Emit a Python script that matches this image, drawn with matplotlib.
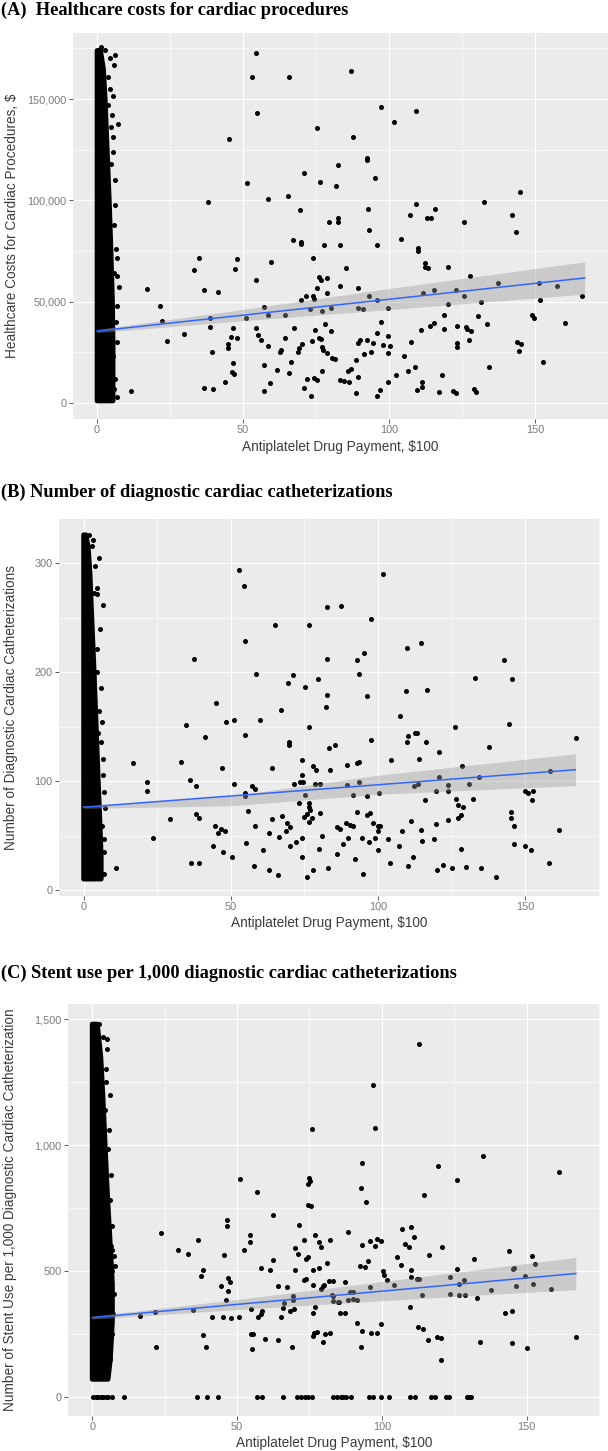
import matplotlib
matplotlib.use("Agg")
import matplotlib.pyplot as plt
from matplotlib.ticker import FuncFormatter

# ---------------- data ----------------
# panel A: healthcare costs (thousand $) vs antiplatelet payment ($100)
a_pts = [
    (54.5,172.8),(53.0,160.7),(65.9,160.7),(54.9,142.9),(45.3,130.4),(71.0,113.3),(51.3,108.5),
    (37.9,99.3),(58.5,100.6),(65.3,102.1),(69.4,95.2),(67.1,80.2),(69.7,79.4),(69.7,78.3),
    (34.9,71.4),(48.1,70.9),(59.7,69.6),(33.3,65.5),(47.2,66.3),(54.6,60.7),(17.0,56.1),
    (36.5,55.6),(41.4,54.8),(70.0,50.8),(71.7,52.8),(21.7,47.7),(57.1,47.2),(22.1,40.5),
    (38.6,42.1),(51.1,42.1),(58.5,43.6),(64.3,43.6),(38.6,37.3),(46.5,36.8),(54.6,36.8),
    (67.6,36.8),(29.8,34.0),(55.3,33.7),(24.0,30.6),(46.0,32.7),(47.8,31.9),(56.0,31.1),
    (64.3,31.9),(44.9,29.0),(44.9,27.3),(58.5,28.1),(70.2,29.1),(39.5,25.3),(62.7,25.3),
    (63.0,26.1),(68.8,25.3),(69.3,27.0),(66.4,20.4),
    (4.4,170.4),(6.1,171.7),(5.9,166.7),(3.9,161.0),(5.6,151.5),(3.9,147.3),(7.3,137.5),
    (4.7,136.0),(5.4,131.4),(4.7,117.9),(6.9,71.4),(5.8,64.0),(7.4,57.4),(6.7,2.8),(11.5,6.1),
    (5.6,23.2),(5.0,21.5),(6.2,97.5),(5.8,88.0),(6.4,76.0),(6.9,62.5),(7.0,48.0),(6.5,40.0),
    (6.8,30.0),(6.0,12.0),(5.9,7.0),(4.6,155.0),(5.0,142.0),(5.6,124.0),(6.0,110.0),
    (2.8,174.0),(1.5,175.5),
    (46.7,19.7),(46.3,15.1),(47.0,14.3),(36.6,7.5),(39.7,7.1),(43.7,10.3),(57.1,18.9),
    (61.6,16.3),(59.1,9.9),(57.1,5.7),(65.9,14.7),
    (87.1,163.9),(97.2,146.2),(109.3,143.9),(101.7,138.8),(75.2,135.5),(87.5,131.4),
    (92.6,120.7),(92.3,119.7),(82.6,117.4),(76.5,109.2),(81.9,107.2),(95.2,110.8),
    (144.8,103.9),(132.5,99.3),(92.9,95.6),(109.3,98.3),(115.8,95.6),(107.2,92.7),(142.1,92.7),
    (79.5,89.4),(82.4,91.1),(82.4,89.1),(93.3,85.3),(77.8,78.2),(83.3,78.2),(95.8,78.2),
    (104.2,80.7),(73.8,71.4),(85.2,66.4),(76.1,62.3),(76.7,60.7),(78.7,61.8),(75.2,56.6),
    (83.3,57.9),(89.4,56.6),(78.7,54.1),(73.8,52.8),(74.4,51.3),(73.0,46.2),(77.0,45.4),
    (80.3,46.7),(89.4,46.7),(91.2,46.2),(93.2,52.8),(95.8,50.8),(99.8,46.7),(109.9,76.3),
    (109.9,75.1),(113.1,91.4),(114.3,91.4),(111.7,54.1),(115.5,55.7),(112.2,68.9),(112.2,67.2),
    (113.3,66.4),(120.1,67.2),(125.7,89.1),(127.6,62.7),(123.1,55.7),(125.6,52.8),(120.1,48.7),
    (119.0,43.4),(118.9,36.5),(123.3,38.0),(123.2,29.7),(123.2,27.5),(126.2,37.6),(126.6,36.5),
    (128.0,35.7),(127.3,30.9),(130.4,43.1),(131.5,50.0),(133.6,39.0),(134.4,17.9),(137.2,59.3),
    (143.4,84.5),(148.9,43.4),(149.8,42.1),(144.0,29.9),(145.3,29.1),(144.4,25.8),(151.4,59.0),
    (151.8,50.8),(152.6,20.2),(157.7,57.9),(160.4,39.3),(166.2,52.8),
    (71.0,7.2),(73.3,3.5),(71.8,11.8),(74.4,12.5),(75.5,11.3),(73.6,30.7),(76.7,31.6),
    (76.1,32.2),(74.6,36.0),(78.2,39.0),(80.1,35.7),(77.0,27.8),(77.5,26.1),(78.8,24.8),
    (80.6,22.3),(81.5,21.5),(77.0,15.8),(83.3,11.3),(84.6,11.0),(86.3,10.2),(85.8,15.9),
    (86.9,16.6),(88.6,21.2),(89.5,12.7),(88.7,4.8),(89.5,29.7),(90.0,31.1),(92.6,31.1),
    (94.5,29.7),(94.0,25.0),(91.5,24.2),(95.9,34.7),(97.2,40.1),(95.8,3.5),(96.8,6.4),
    (98.0,28.6),(100.3,28.3),(99.7,33.2),(99.7,24.5),(99.6,10.5),(102.5,13.8),(105.1,23.3),
    (106.5,15.8),(107.7,29.9),(109.0,17.9),(109.6,6.4),(111.4,7.7),(111.4,10.5),(110.9,36.0),
    (114.0,38.1),(115.4,39.6),(118.0,13.8),(117.1,5.4),(121.9,6.1),(122.8,4.8),(129.0,7.1),
    (129.9,5.6),
]
# dense column near zero payment: right edge of the solid cloud
a_col_y = [1, 10, 30, 50, 75, 100, 125, 150, 165, 174]
a_col_x = [5.5, 5.5, 5.5, 5.3, 4.8, 4.2, 3.5, 2.8, 2.2, 1.2]
a_fit_x = [0, 167]
a_fit_y = [35.5, 61.7]
a_ci_x = [0, 50, 100, 167]
a_ci_lo = [34.7, 40.6, 46.1, 53.7]
a_ci_hi = [36.3, 46.2, 56.5, 69.7]

# panel B: number of diagnostic catheterizations
b_pts = [
    (3.3,321.4),(2.9,315.3),(4.0,297.2),(4.4,277.2),(3.7,272.9),(4.4,271.4),(6.7,261.3),
    (4.4,220.8),(4.6,200.2),(5.4,164.0),(6.3,153.9),(5.0,144.0),(5.8,135.5),(6.7,105.8),
    (5.5,57.7),(6.3,58.9),(6.9,46.6),(11.1,20.5),(36.5,25.1),(39.3,25.1),
    (5.6,240.0),(6.0,185.0),(6.6,120.0),(7.0,90.0),(7.2,75.0),(7.0,35.0),(6.8,15.0),
    (5.2,305.0),(2.0,326.0),
    (52.9,294.1),(54.5,279.3),(82.8,259.4),(87.5,260.3),(65.1,243.1),(76.5,243.1),(54.7,228.7),
    (37.6,211.8),(82.5,211.8),(58.5,198.3),(71.0,197.4),(69.4,190.0),(79.7,194.1),(75.3,186.5),
    (82.5,179.1),(82.3,168.0),(45.1,171.3),(67.1,165.6),(51.1,156.0),(48.2,154.6),(59.8,156.0),
    (34.8,151.1),(76.5,149.3),(41.1,140.1),(54.7,142.6),(69.9,135.5),(69.7,133.4),(85.2,133.1),
    (83.4,130.6),(16.7,117.0),(33.2,117.8),(47.0,111.9),(64.1,111.9),(74.0,119.6),(77.9,114.1),
    (79.0,110.4),(83.5,110.4),(21.4,99.4),(21.6,91.3),(36.3,101.2),(38.3,95.0),(51.1,97.5),
    (54.7,89.4),(54.9,86.5),(57.1,95.3),(58.2,93.1),(71.5,97.5),(73.6,99.4),(74.5,99.4),
    (74.0,106.0),(75.3,87.4),(73.2,79.7),(76.4,79.7),(78.7,97.5),(80.3,97.5),(29.5,65.3),
    (38.3,69.6),(39.3,66.0),(55.7,72.7),(64.1,65.3),(67.5,68.3),(69.0,61.3),(70.2,57.6),
    (68.6,54.3),(74.7,66.9),(76.0,69.9),(77.0,73.6),(76.4,62.8),(77.5,65.9),(80.3,71.0),
    (76.6,76.6),(44.7,58.9),(46.7,55.7),(48.1,54.5),(45.7,52.1),(58.2,58.9),(62.8,52.1),
    (66.2,49.0),(23.4,47.5),(74.3,47.5),(80.9,49.7),(86.0,58.2),(87.1,55.7),
    (101.8,289.8),(97.6,249.0),(109.9,222.0),(114.6,226.3),(92.8,210.9),(95.3,217.7),(93.5,198.4),
    (96.2,177.9),(109.5,182.6),(116.5,184.0),(132.9,194.6),(142.9,210.9),(145.4,194.1),
    (107.5,159.4),(126.1,149.3),(144.3,152.6),(97.5,137.3),(109.9,135.5),(110.3,141.7),
    (112.4,144.2),(113.3,144.2),(116.2,135.5),(120.8,127.0),(137.6,131.6),(167.2,139.2),
    (89.6,114.3),(92.8,116.5),(93.5,117.4),(104.3,119.6),(113.9,120.2),(128.4,114.1),
    (120.8,104.1),(158.5,109.5),(89.6,96.6),(93.5,99.1),(112.2,95.0),(113.5,97.5),(123.6,96.6),
    (123.6,91.3),(130.7,97.5),(134.3,103.7),(119.7,91.3),(100.4,88.9),(91.6,87.1),(96.2,86.5),
    (115.9,82.8),(126.4,83.9),(127.1,78.2),(128.7,76.6),(132.1,83.9),(149.8,91.3),(151.0,89.4),
    (152.6,91.3),(152.3,82.2),(93.0,71.9),(96.2,69.0),(97.3,70.6),(89.2,61.4),(90.3,59.8),
    (91.6,59.1),(98.2,61.4),(100.1,58.9),(100.7,58.9),(99.8,53.7),(111.1,63.5),(108.0,54.6),
    (114.6,55.2),(119.7,60.4),(123.6,63.8),(127.2,66.0),(128.0,69.0),(145.0,72.0),(145.2,66.0),
    (146.1,58.9),(161.4,55.2),
    (89.8,48.0),(94.5,48.0),(98.8,48.0),(103.3,47.0),(119.1,47.0),
    (44.0,40.0),(47.5,35.0),(50.5,30.0),(55.0,43.0),(58.0,22.0),(61.0,37.0),(63.0,18.0),
    (66.0,14.0),(70.0,40.0),(72.0,44.0),(74.0,30.0),(76.0,12.0),(78.0,18.0),(80.0,38.0),
    (83.0,20.0),(86.0,33.0),(88.0,42.0),(92.0,28.0),(95.0,15.0),(97.0,44.0),(100.0,37.0),
    (104.0,25.0),(107.0,40.0),(110.0,22.0),(112.0,30.0),(115.0,45.0),(120.0,18.0),(122.0,23.0),
    (125.0,20.0),(128.0,38.0),(130.0,21.0),(135.0,20.0),(140.0,12.0),(146.0,42.0),(150.0,40.0),
    (152.0,37.0),(158.0,25.0),
]
b_col_y = [10, 30, 60, 100, 150, 200, 250, 290, 315, 326]
b_col_x = [6.0, 6.0, 5.6, 5.0, 4.3, 3.6, 2.8, 2.2, 1.6, 0.8]
b_fit_x = [0, 167]
b_fit_y = [76.0, 110.4]
b_ci_x = [0, 50, 100, 167]
b_ci_lo = [75.0, 77.3, 87.9, 95.8]
b_ci_hi = [77.0, 86.3, 105.3, 125.0]

# panel C: stent use per 1,000 diagnostic catheterizations
c_pts = [
    (4.5,1137),(6.8,584),(5.4,720),(6.0,780),(6.5,600),(5.9,460),(6.3,430),(5.0,1380),
    (4.6,1250),(5.5,985),(6.8,500),(7.6,560),(8.0,520),(7.4,410),(7.2,330),(6.9,250),
    (6.2,150),(5.6,100),(7.0,680),(6.6,880),(5.8,1060),(4.8,1300),(3.8,1430),(2.5,1480),
    (6.2,1200),(5.2,1420),
    (76.0,1062),(51.0,865.5),(57.0,814.0),(74.7,869.6),(75.2,856.0),(74.4,847.0),(74.6,763.0),
    (75.4,759.0),(62.3,722.5),(46.4,701.0),(46.4,677.0),(23.8,651.0),(71.5,682.7),(88.3,653.0),
    (36.4,624.0),(54.5,644.0),(54.5,613.6),(73.2,624.0),(77.0,641.5),(78.3,615.0),(79.1,595.0),
    (82.1,624.0),(29.6,584.5),(33.2,568.6),(45.6,564.6),(52.5,584.5),(70.1,591.0),(70.9,568.6),
    (73.8,547.5),(74.4,554.0),(62.5,542.0),(81.1,531.6),(37.5,481.0),(38.4,502.0),(58.3,510.0),
    (61.4,502.0),(70.0,502.0),(76.1,502.0),(78.2,510.0),(46.8,472.0),(47.6,457.0),(47.0,419.0),
    (46.2,383.0),(44.5,438.6),(64.0,438.6),(67.3,436.0),(73.2,465.0),(74.0,469.0),(76.1,445.0),
    (78.9,428.0),(79.6,438.6),(80.1,444.0),(81.8,462.0),(83.2,460.0),(87.2,455.0),(69.4,399.0),
    (69.2,386.0),(66.3,372.5),(65.8,352.7),(77.0,359.0),(83.0,399.0),(84.9,375.0),(88.4,383.0),
    (54.7,350.0),(58.6,343.0),(58.3,330.0),(34.9,346.0),(85.5,333.0),(87.2,333.0),(16.6,323.0),
    (21.7,338.0),(41.3,319.0),(45.1,317.0),(47.9,314.0),(50.8,319.0),(57.1,317.0),(65.1,317.0),
    (68.3,343.0),(69.7,349.0),(76.3,333.0),(54.9,250.0),(55.6,250.0),(38.2,246.5),(39.4,200.0),
    (22.0,200.0),(55.1,189.6),(59.7,232.0),(64.0,226.6),(69.0,200.0),(76.3,242.5),(76.7,255.7),
    (77.5,259.6),(79.6,217.5),(80.3,250.0),(82.1,253.0),
    (113.0,1400),(97.0,1240),
    (97.6,1068),(93.1,929),(134.9,958),(119.4,918.5),(161.1,893.5),(126.1,860),(92.8,831),
    (114.6,802),(94.7,772.6),(107.1,668),(110.2,673),(111.1,635),(93.3,604),(95.9,617.5),
    (97.6,597.6),(98.5,627),(99.9,617.5),(107.9,608),(109.3,593.6),(116.2,561.8),(120.8,593.6),
    (105.4,554),(106.8,522),(144.1,580.5),(152.0,558),(153.0,529),(131.7,547.5),(126.1,509),
    (145.3,509),(92.4,518),(94.1,515.7),(95.3,539.6),(100.4,498),(100.7,485),(101.8,465),
    (110.0,502),(110.0,478),(112.0,470),(112.8,470),(104.2,445),(95.9,436),(113.9,404),
    (123.4,477),(123.6,408),(126.7,449),(128.3,465),(126.7,404),(128.6,404),(133.0,392.4),
    (137.7,425.5),(145.5,511.7),(146.2,441),(149.6,482),(152.2,448),(158.5,429),(89.0,415),
    (90.1,388.5),(91.5,385.7),(90.2,414.7),(82.9,405.5),(83.2,379),(85.3,376.5),(142.4,335),
    (144.9,342),(109.7,356.6),(120.6,236),(119.2,237),(120.3,147),(133.9,217.5),(144.8,213.5),
    (150.3,193.6),(167.1,240),(112.5,279.5),(114.2,269),(116.1,226.6),(91.3,295.5),(93.3,263.6),
    (96.2,253),(98.2,253),(99.8,290),(92.8,200),
]
c_zero_x = [0.3, 1.2, 2.0, 2.9, 3.8, 4.6, 5.5, 6.7, 11.1, 36.1, 39.5, 43.3, 57.0, 58.7, 66.0,
            70.8, 72.1, 73.4, 74.6, 75.8, 83.2, 84.7, 85.8, 86.7, 87.6, 89.2, 95.5, 97.0, 99.9,
            102.5, 109.9, 111.4, 117.1, 118.5, 122.3, 123.1, 129.4, 130.0, 130.7]
c_col_y = [70, 150, 300, 450, 600, 800, 1000, 1200, 1350, 1480]
c_col_x = [5.5, 6.3, 7.0, 7.0, 6.3, 5.3, 4.5, 3.7, 3.0, 1.8]
c_fit_x = [0, 167]
c_fit_y = [315, 490]
c_ci_x = [0, 50, 100, 167]
c_ci_lo = [309, 347, 382, 426]
c_ci_hi = [321, 387, 458, 554]

titles = ["(A)  Healthcare costs for cardiac procedures",
          "(B) Number of diagnostic cardiac catheterizations",
          "(C) Stent use per 1,000 diagnostic cardiac catheterizations"]
ylabels = ["Healthcare Costs for Cardiac Procedures, $",
           "Number of Diagnostic Cardiac Catheterizations",
           "Number of Stent Use per 1,000 Diagnostic Cardiac Catheterization"]
xlabel = "Antiplatelet Drug Payment, $100"
x_ticks = [0, 50, 100, 150]

# ---------------- drawing ----------------
W, H = 608, 1451
fig = plt.figure(figsize=(W / 100, H / 100), dpi=100)
SANS = "Liberation Sans"
SERIF = "Liberation Serif"


def px_axes(l, t, r, b):
    return fig.add_axes([l / W, 1 - b / H, (r - l) / W, (b - t) / H])


def panel(box, xlim, ylim, yticks, yminor, ylab_fmt, pts, col_y, col_x,
          fit_x, fit_y, ci_x, ci_lo, ci_hi, extra=None):
    ax = px_axes(*box)
    ax.set_facecolor("#EBEBEB")
    for s in ax.spines.values():
        s.set_visible(False)
    ax.set_xlim(*xlim)
    ax.set_ylim(*ylim)
    ax.set_xticks(x_ticks)
    ax.set_xticks([25, 75, 125, 175], minor=True)
    ax.set_yticks(yticks)
    ax.set_yticks(yminor, minor=True)
    ax.yaxis.set_major_formatter(FuncFormatter(ylab_fmt))
    ax.grid(True, which="major", color="white", lw=0.9)
    ax.grid(True, which="minor", color="white", lw=0.45)
    ax.set_axisbelow(True)
    ax.tick_params(which="major", length=3, width=0.6, color="#444444",
                   labelsize=7.8, labelcolor="#7a7a7a", pad=1.5)
    ax.tick_params(which="minor", length=0)
    for lab in ax.get_xticklabels() + ax.get_yticklabels():
        lab.set_fontfamily(SANS)

    # solid cloud of overlapping points at zero payment
    poly_x = [0] + list(col_x) + [0]
    poly_y = [col_y[0]] + list(col_y) + [col_y[-1]]
    ax.fill(poly_x, poly_y, color="black", lw=3.4, ec="black", zorder=2,
            joinstyle="round")
    xs = [p[0] for p in pts]
    ys = [p[1] for p in pts]
    ax.scatter(xs, ys, s=13, c="black", lw=0, zorder=2)
    if extra is not None:
        ax.scatter(extra[0], extra[1], s=13, c="black", lw=0, zorder=2)

    ax.fill_between(ci_x, ci_lo, ci_hi, color="#999999", alpha=0.4, lw=0, zorder=3)
    ax.plot(fit_x, fit_y, color="#3366FF", lw=1.1, zorder=4)
    return ax


def kfmt(v, pos):
    return f"{v * 1000:,.0f}"


def plainfmt(v, pos):
    return f"{v:,.0f}"


# panel A
panel((72.5, 33, 608, 419), (-8.4, 174.3), (-7.9, 182.6), [0, 50, 100, 150],
      [25, 75, 125, 175], kfmt, a_pts, a_col_y, a_col_x,
      a_fit_x, a_fit_y, a_ci_x, a_ci_lo, a_ci_hi)
# panel B
panel((59, 519, 600, 896), (-8.35, 175.35), (-5.5, 340.5), [0, 100, 200, 300],
      [50, 150, 250], plainfmt, b_pts, b_col_y, b_col_x,
      b_fit_x, b_fit_y, b_ci_x, b_ci_lo, b_ci_hi)
# panel C
panel((68, 1004, 600, 1416), (-8.35, 175.35), (-75.5, 1559.6), [0, 500, 1000, 1500],
      [250, 750, 1250], plainfmt, c_pts, c_col_y, c_col_x,
      c_fit_x, c_fit_y, c_ci_x, c_ci_lo, c_ci_hi,
      extra=(c_zero_x, [0] * len(c_zero_x)))

# titles and axis labels
title_y = [10, 492, 973]
for t, y in zip(titles, title_y):
    fig.text(1 / W, 1 - y / H, t, fontfamily=SERIF, fontweight="bold",
             fontsize=13.2, va="center", ha="left")

xlab_pos = [(340, 447), (329.5, 923), (334, 1443)]
for x, y in xlab_pos:
    fig.text(x / W, 1 - y / H, xlabel, fontfamily=SANS, fontsize=9.8,
             color="#3c3c3c", ha="center", va="center")

ylab_pos = [(12, 226), (11, 707.5), (10, 1210)]
for lab, (x, y) in zip(ylabels, ylab_pos):
    fig.text(x / W, 1 - y / H, lab, fontfamily=SANS, fontsize=9.8,
             color="#3c3c3c", ha="center", va="center", rotation=90)

fig.savefig("out.png", dpi=100, facecolor="white")
